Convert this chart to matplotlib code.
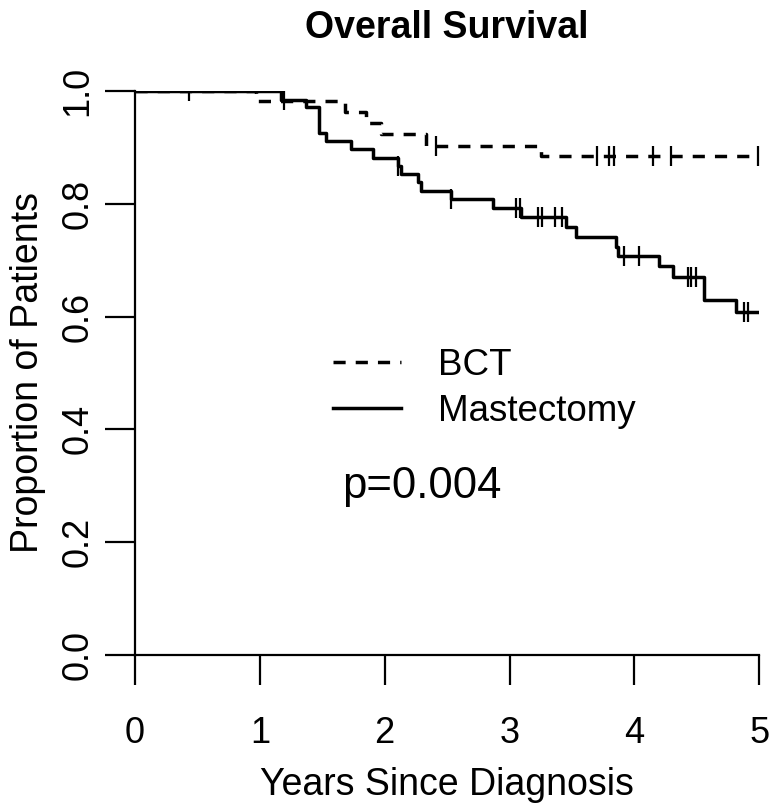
import numpy as np
import matplotlib
matplotlib.use("Agg")
import matplotlib.pyplot as plt

plt.rcParams['font.family'] = ['Liberation Sans', 'DejaVu Sans']

# ---- data ----
bct_times = [0.0, 0.97, 1.68, 1.85, 1.97, 2.33, 3.25, 5.0]
bct_surv = [1.0, 0.983, 0.962, 0.944, 0.923, 0.903, 0.885, 0.885]
bct_censor = [0.43, 2.41, 3.70, 3.80, 3.84, 4.15, 4.29, 4.99]

mast_times = [0.0, 1.17, 1.37, 1.47, 1.53, 1.73, 1.91, 2.11, 2.13, 2.27, 2.29,
              2.53, 2.87, 3.09, 3.45, 3.53, 3.85, 3.87, 4.20, 4.31, 4.56, 4.81, 5.0]
mast_surv = [1.0, 0.984, 0.972, 0.926, 0.912, 0.897, 0.882, 0.867, 0.852, 0.838, 0.823,
             0.808, 0.793, 0.777, 0.758, 0.742, 0.724, 0.707, 0.690, 0.671, 0.630, 0.609, 0.609]
mast_censor = [1.19, 2.11, 2.53, 3.05, 3.08, 3.23, 3.26, 3.36, 3.42, 3.92, 4.04,
               4.43, 4.45, 4.49, 4.88, 4.91]

group_labels = ["BCT", "Mastectomy"]
x_ticks = [0, 1, 2, 3, 4, 5]
y_ticks = [0.0, 0.2, 0.4, 0.6, 0.8, 1.0]
title = "Overall Survival"
x_label = "Years Since Diagnosis"
y_label = "Proportion of Patients"
p_text = "p=0.004"


def surv_at(times, surv, t):
    idx = np.searchsorted(times, t, side='right') - 1
    return np.asarray(surv)[idx]


fig = plt.figure(figsize=(7.71, 8.09), dpi=100)
ax = fig.add_axes([0.1751, 0.1904, 0.9848 - 0.1751, 0.8875 - 0.1904])

lw = 2.5
dash = (0, (3.5, 2.9))
ax.step(bct_times, bct_surv, where='post', color='black', lw=lw, ls=dash,
        label=group_labels[0])
ax.step(mast_times, mast_surv, where='post', color='black', lw=lw, ls='-',
        label=group_labels[1])
ax.plot(bct_censor, surv_at(bct_times, bct_surv, bct_censor), ls='none',
        marker='|', ms=14.4, mew=1.6, color='black')
ax.plot(mast_censor, surv_at(mast_times, mast_surv, mast_censor), ls='none',
        marker='|', ms=14.4, mew=1.6, color='black')

ax.set_xlim(0, 5)
ax.set_ylim(0, 1)
ax.set_xticks(x_ticks)
ax.set_yticks(y_ticks)
ax.set_yticklabels([f"{v:.1f}" for v in y_ticks])
for s in ['top', 'right']:
    ax.spines[s].set_visible(False)
for s in ['left', 'bottom']:
    ax.spines[s].set_linewidth(1.6)

ax.tick_params(axis='both', direction='out', length=21.6, width=1.6, labelsize=26)
ax.tick_params(axis='x', pad=22)
ax.tick_params(axis='y', pad=7, labelrotation=90)
for lab in ax.get_yticklabels():
    lab.set_va('center')

ax.set_xlabel(x_label, fontsize=27, labelpad=12)
ax.set_ylabel(y_label, fontsize=27, labelpad=10)
ax.set_title(title, fontsize=27, fontweight='bold', pad=38)

leg = ax.legend(loc='upper left', bbox_to_anchor=((333 - 135) / 624.3, (655 - 348) / 564),
                frameon=False, fontsize=26.5, handlelength=1.85, handletextpad=1.0,
                labelspacing=0.3, borderpad=0, borderaxespad=0)

ax.text((341.7 - 135) / 624.3, (655 - 498.3) / 564, p_text, transform=ax.transAxes,
        fontsize=31.5, va='baseline', ha='left')

fig.savefig("out.png", dpi=100)
